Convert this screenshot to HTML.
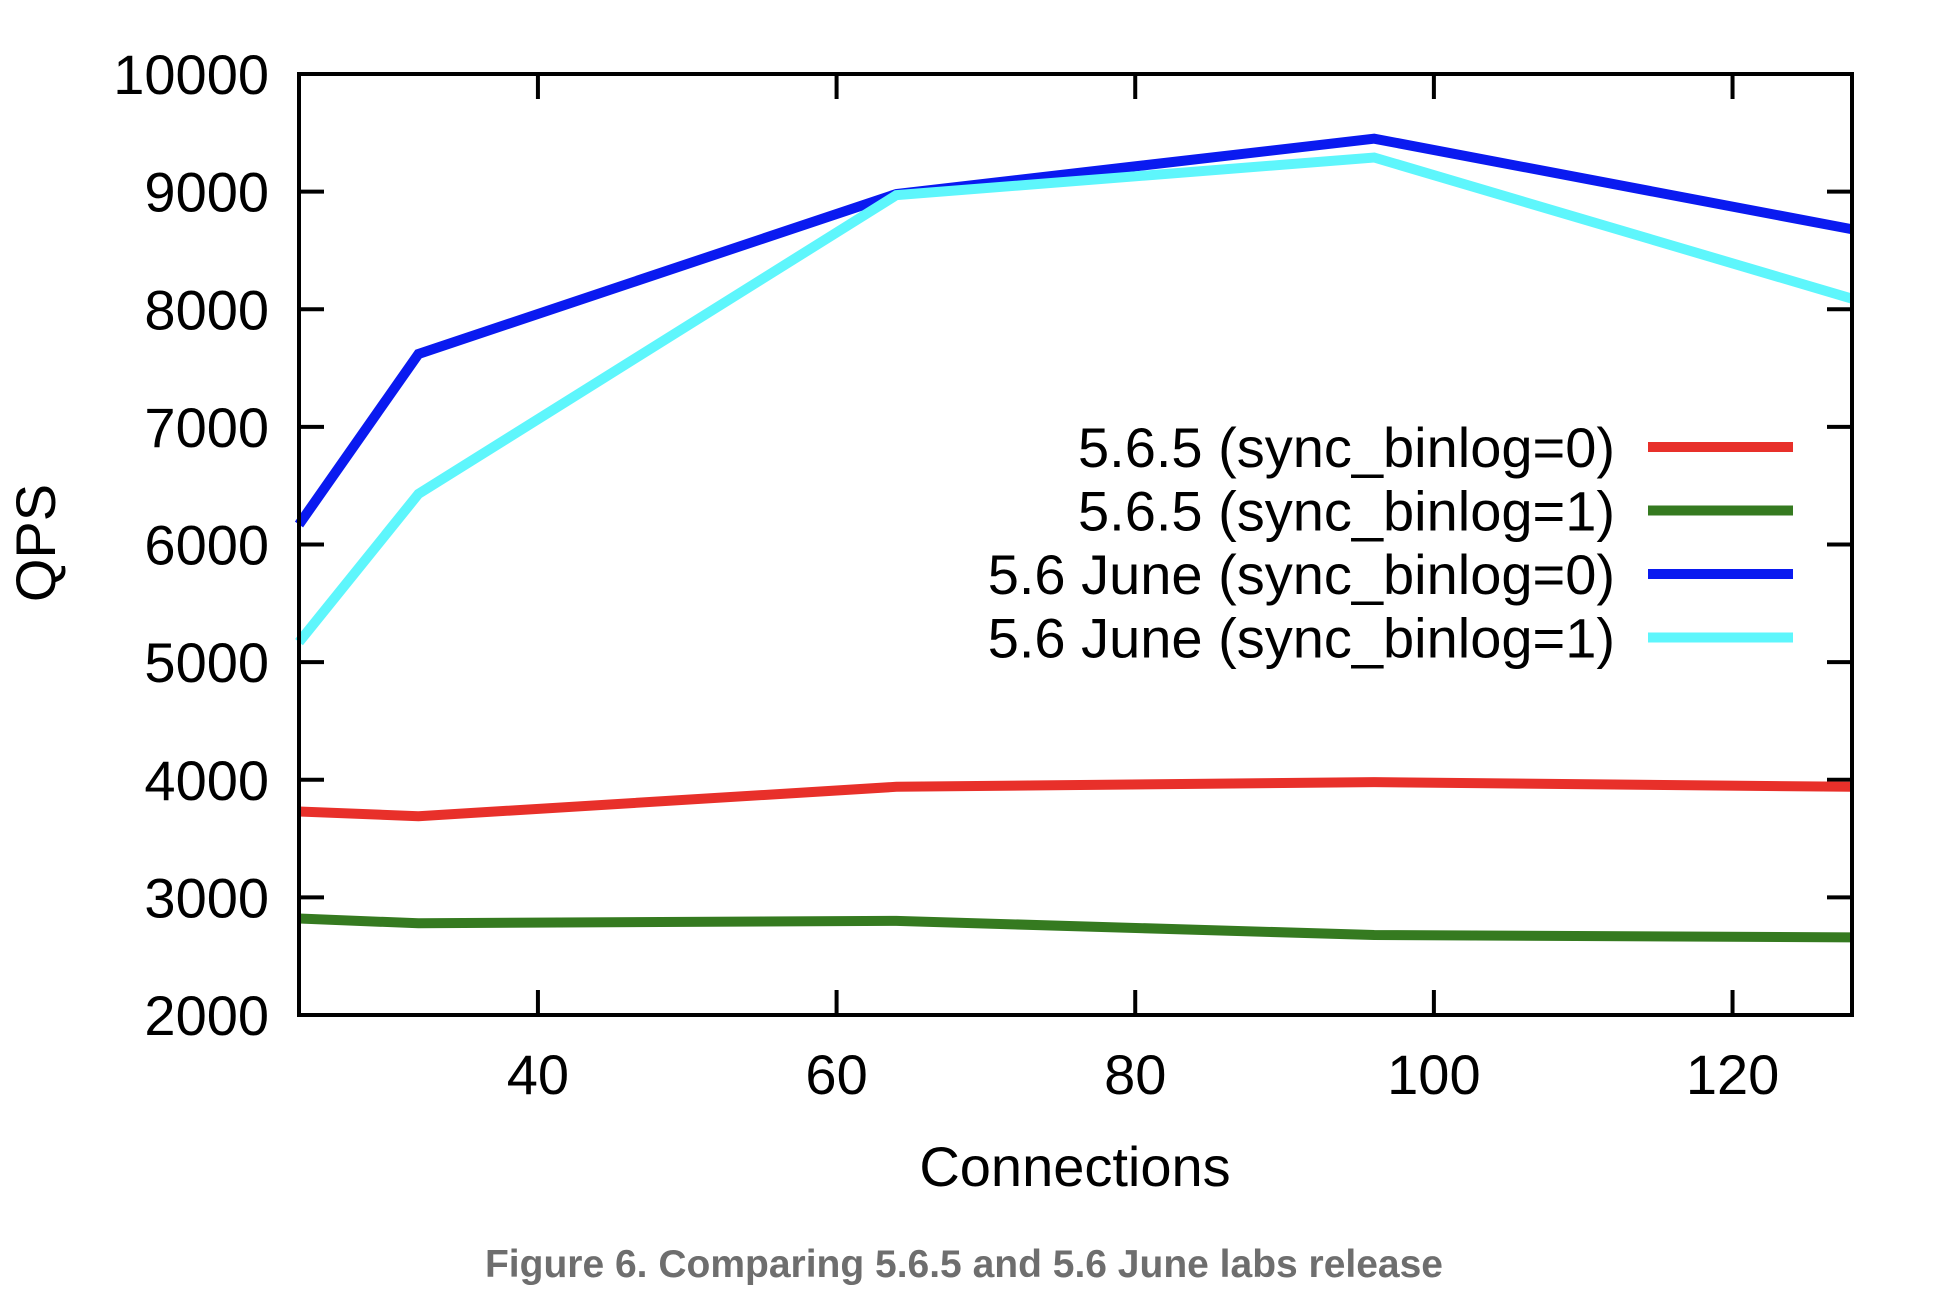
<!DOCTYPE html>
<html><head><meta charset="utf-8"><style>
html,body{margin:0;padding:0;background:#fff;}
svg{display:block;font-family:"Liberation Sans","DejaVu Sans",sans-serif;}
</style></head><body>
<svg id="chart" width="1936" height="1302" viewBox="0 0 1936 1302" xmlns="http://www.w3.org/2000/svg">
<g id="grid"></g>
<g id="series"></g>
<g id="legend"></g>
<rect x="299" y="74" width="1553" height="941" fill="none" stroke="#000" stroke-width="4"/>
<text x="1075" y="1186" font-size="56" text-anchor="middle">Connections</text>
<text transform="translate(55,543) rotate(-90)" font-size="56" text-anchor="middle">QPS</text>
<text x="964" y="1277" font-size="39" font-weight="bold" fill="#6e6e6e" text-anchor="middle">Figure 6. Comparing 5.6.5 and 5.6 June labs release</text>
</svg>
<script>
const xValues = [24, 32, 64, 96, 128];
const red565sb0 = [3730, 3690, 3940, 3980, 3940];
const green565sb1 = [2820, 2780, 2800, 2680, 2660];
const blueJune0 = [6170, 7620, 8980, 9450, 8680];
const cyanJune1 = [5170, 6430, 8970, 9290, 8090];
const xTicks = [40, 60, 80, 100, 120];
const yTicks = [2000, 3000, 4000, 5000, 6000, 7000, 8000, 9000, 10000];
const seriesNames = ["5.6.5 (sync_binlog=0)", "5.6.5 (sync_binlog=1)", "5.6 June (sync_binlog=0)", "5.6 June (sync_binlog=1)"];

const L=299,R=1852,T=74,B=1015;
const sx=v=>L+(v-24)/(128-24)*(R-L);
const sy=v=>B-(v-2000)/(10000-2000)*(B-T);
const NS="http://www.w3.org/2000/svg";
function mk(tag,attrs,parent){const e=document.createElementNS(NS,tag);for(const k in attrs)e.setAttribute(k,attrs[k]);parent.appendChild(e);return e;}
const grid=document.getElementById('grid');
yTicks.forEach(v=>{
  const y=sy(v);
  const a=mk('line',{x1:L,x2:L+25,y1:y,y2:y,stroke:'#000','stroke-width':4},grid);
  
  
  const b=mk('line',{x1:R-25,x2:R,y1:y,y2:y,stroke:'#000','stroke-width':4},grid);
  
  
  const t=mk('text',{x:269,y:y+20,'font-size':56,'text-anchor':'end'},grid);
  t.textContent=v;
  
  
});
xTicks.forEach(v=>{
  const x=sx(v);
  const a=mk('line',{x1:x,x2:x,y1:B,y2:B-25,stroke:'#000','stroke-width':4},grid);
  
  
  const b=mk('line',{x1:x,x2:x,y1:T,y2:T+25,stroke:'#000','stroke-width':4},grid);
  
  
  const t=mk('text',{x:x,y:1094,'font-size':56,'text-anchor':'middle'},grid);
  t.textContent=v;
  
  
});
const allSeries=[red565sb0,green565sb1,blueJune0,cyanJune1];
const colors=['#e8302a','#357a20','#0a1af0','#5ef6fc'];
const sg=document.getElementById('series');
const lg=document.getElementById('legend');
allSeries.forEach((s,i)=>{
  const pts=s.map((v,j)=>sx(xValues[j])+','+sy(v)).join(' ');
  const p=mk('polyline',{points:pts,fill:'none',stroke:colors[i],'stroke-width':10,'stroke-linejoin':'miter'},sg);
  
  
  const y=447+i*63.5;
  const t=mk('text',{x:1615,y:y+20,'font-size':56,'text-anchor':'end'},lg);
  t.textContent=seriesNames[i];
  
  
  const l=mk('line',{x1:1648,x2:1793,y1:y,y2:y,stroke:colors[i],'stroke-width':10},lg);
  
  
});
</script>
</body></html>
